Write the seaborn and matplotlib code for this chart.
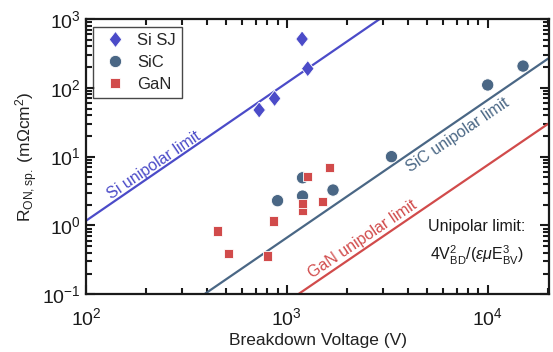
import pandas as pd
import matplotlib
matplotlib.use('Agg')
import matplotlib.pyplot as plt
import seaborn as sns

sns.set_style("ticks")
plt.rcParams['font.family'] = ['Liberation Sans', 'DejaVu Sans']
plt.rcParams['mathtext.fontset'] = 'custom'
plt.rcParams['mathtext.rm'] = 'Liberation Sans'
plt.rcParams['mathtext.it'] = 'Liberation Sans:italic'
plt.rcParams['mathtext.bf'] = 'Liberation Sans:bold'

# device data (V, mOhm cm^2)
si_v = [728, 869, 1191, 1271]
si_r = [47.6, 70, 512, 190]
sic_v = [899, 1197, 1197, 1698, 3319, 10000, 15000]
sic_r = [2.29, 4.93, 2.67, 3.27, 10, 110, 207]
gan_v = [452, 511, 798, 859, 1202, 1202, 1262, 1500, 1637]
gan_r = [0.83, 0.39, 0.36, 1.16, 1.67, 2.1, 5.1, 2.21, 6.9]

# unipolar limit lines, endpoints
si_lim_v = [100, 2900]
si_lim_r = [1.17, 1000]
sic_lim_v = [388, 20000]
sic_lim_r = [0.1, 266]
gan_lim_v = [1138, 20000]
gan_lim_r = [0.1, 30]

c_si = '#4b4bc8'
c_sic = '#4a6785'
c_gan = '#d14b4b'

df = pd.DataFrame({
    'V': si_v + sic_v + gan_v,
    'R': si_r + sic_r + gan_r,
    'material': ['Si SJ'] * len(si_v) + ['SiC'] * len(sic_v) + ['GaN'] * len(gan_v),
})

# slightly narrow diamond like the original
diamond = [(0, 1), (0.78, 0), (0, -1), (-0.78, 0), (0, 1)]

fig = plt.figure(figsize=(5.53, 3.52), dpi=100)
ax = fig.add_axes([0.1555, 0.164, 0.8373, 0.782])

ax.plot(si_lim_v, si_lim_r, color=c_si, lw=1.6)
ax.plot(sic_lim_v, sic_lim_r, color=c_sic, lw=1.6)
ax.plot(gan_lim_v, gan_lim_r, color=c_gan, lw=1.6)

sns.scatterplot(data=df, x='V', y='R', hue='material', style='material',
                palette={'Si SJ': c_si, 'SiC': c_sic, 'GaN': c_gan},
                markers={'Si SJ': diamond, 'SiC': 'o', 'GaN': 's'},
                size='material', sizes={'Si SJ': 135, 'SiC': 78, 'GaN': 44},
                edgecolor='white', linewidth=0.6, alpha=1, ax=ax, zorder=3)

ax.set_xscale('log')
ax.set_yscale('log')
ax.set_xlim(100, 2.02e4)
ax.set_ylim(0.1, 1000)

ax.set_xlabel('Breakdown Voltage (V)', fontsize=12.5, color='#222222', labelpad=3)
ax.set_ylabel(r'R$_{\rm ON,sp.}$ (m$\Omega$cm$^2$)', fontsize=12.5, color='#222222',
              labelpad=2)

for s in ax.spines.values():
    s.set_linewidth(1.6)
    s.set_color('#1a1a1a')
ax.tick_params(which='both', direction='in', top=True, right=True, width=1.5,
               labelsize=14, colors='#1a1a1a')
ax.tick_params(which='major', length=6.5)
ax.tick_params(which='minor', length=4)
ax.tick_params(axis='x', pad=9)

ax.text(218, 7.6, 'Si unipolar limit', color=c_si, rotation=34, fontsize=11.5,
        ha='center', va='center')
ax.text(7100, 20.6, 'SiC unipolar limit', color=c_sic, rotation=34, fontsize=11.5,
        ha='center', va='center')
ax.text(2390, 0.63, 'GaN unipolar limit', color=c_gan, rotation=34, fontsize=11.5,
        ha='center', va='center')
ax.text(8800, 0.96, 'Unipolar limit:', fontsize=11.5, ha='center', va='center',
        color='#1a1a1a')
ax.text(8800, 0.37, r'4V$^2_{\rm BD}$/($\epsilon\mu$E$^3_{\rm BV}$)', fontsize=11.5,
        ha='center', va='center', color='#1a1a1a')

h, l = ax.get_legend_handles_labels()
leg = ax.legend(h, l, loc='upper left', fontsize=12, frameon=True, fancybox=False,
                borderaxespad=0.45, handletextpad=0.4, labelspacing=0.4,
                borderpad=0.4, handlelength=1.8)
leg.get_frame().set_edgecolor('#1a1a1a')
leg.get_frame().set_linewidth(1.0)

fig.savefig('out.png', dpi=100)
